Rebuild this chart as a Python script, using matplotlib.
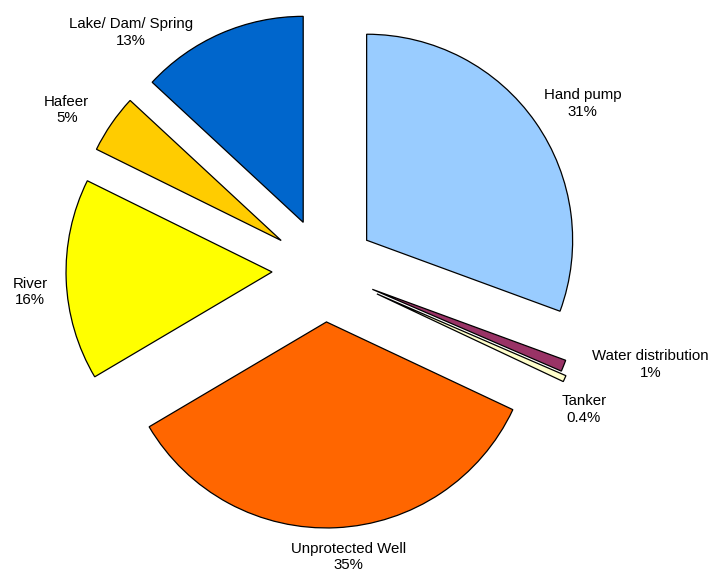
import numpy as np
import matplotlib
matplotlib.use('Agg')
import matplotlib.pyplot as plt

plt.rcParams['font.family'] = ['Liberation Sans', 'DejaVu Sans']

sources = ['Hand pump', 'Water distribution', 'Tanker', 'Unprotected Well',
           'River', 'Hafeer', 'Lake/ Dam/ Spring']
shares = [30.6, 0.9, 0.5, 34.5, 15.8, 4.6, 13.1]
share_labels = ['31%', '1%', '0.4%', '35%', '16%', '5%', '13%']
colors = ['#99CCFF', '#993366', '#FFFFCC', '#FF6600', '#FFFF00', '#FFCC00', '#0066CC']

# label placement (radius in pixels from pie centre, angle in degrees)
label_radius = [308, 340, 295, 288, 295, 303, 306]
label_angle = [32.8, -16.2, -28.3, -85.2, 184.3, 148.1, 129.2]
explode_px = [52, 52, 58, 52, 52, 52, 52]

W, H = 713, 574
cx, cy = 324, H - 270
radius = 206

fig = plt.figure(figsize=(W / 100, H / 100), dpi=100)
ax = fig.add_axes([0, 0, 1, 1])
# pie explode is in data units here (pixels)
ax.pie(shares, colors=colors, startangle=90, counterclock=False,
       center=(cx, cy), radius=radius, explode=explode_px,
       wedgeprops=dict(edgecolor='black', linewidth=0.9))
ax.set_xlim(0, W)
ax.set_ylim(0, H)
ax.set_aspect('equal')
ax.axis('off')

for name, pct, r, a in zip(sources, share_labels, label_radius, label_angle):
    x = cx + r * np.cos(np.radians(a))
    y = cy + r * np.sin(np.radians(a))
    ax.text(x, y, f'{name}\n{pct}', ha='center', va='center',
            fontsize=10.8, linespacing=1.25)

fig.savefig('out.png', dpi=100)
